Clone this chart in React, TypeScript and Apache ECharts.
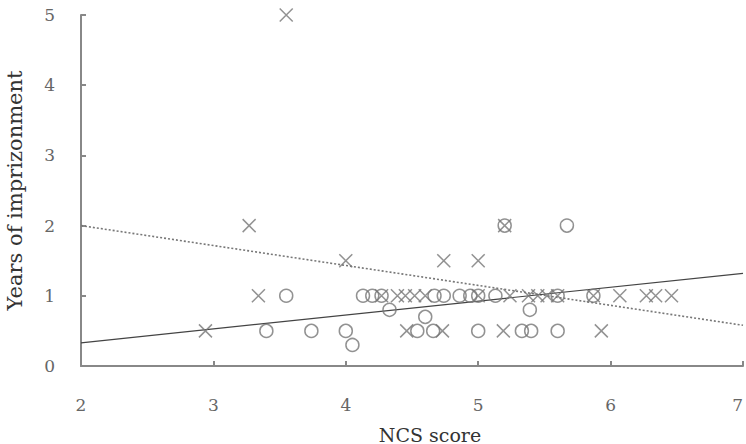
import React, { useEffect, useRef } from "react";
import * as echarts from "echarts";

const xTicks = [2, 3, 4, 5, 6, 7];
const yTicks = [0, 1, 2, 3, 4, 5];

// Group shown with circles
const circleX = [3.4, 3.55, 3.74, 4.0, 4.05, 4.13, 4.2, 4.27, 4.33, 4.54, 4.6, 4.66, 4.67, 4.74, 4.86, 4.94, 5.0, 5.0, 5.13, 5.2, 5.33, 5.4, 5.39, 5.6, 5.6, 5.67, 5.87];
const circleY = [0.5, 1, 0.5, 0.5, 0.3, 1, 1, 1, 0.8, 0.5, 0.7, 0.5, 1, 1, 1, 1, 1, 0.5, 1, 2, 0.5, 0.5, 0.8, 1, 0.5, 2, 1];

// Group shown with crosses
const crossX = [2.94, 3.27, 3.34, 3.55, 4.0, 4.27, 4.39, 4.45, 4.52, 4.6, 4.46, 4.73, 4.74, 5.0, 5.0, 5.2, 5.19, 5.24, 5.38, 5.45, 5.52, 5.6, 5.87, 5.93, 6.07, 6.27, 6.34, 6.46];
const crossY = [0.5, 2, 1, 5, 1.5, 1, 1, 1, 1, 1, 0.5, 0.5, 1.5, 1.5, 1, 2, 0.5, 1, 1, 1, 1, 1, 1, 0.5, 1, 1, 1, 1];

// Regression lines (end points)
const solidLineX = [2, 7];
const solidLineY = [0.33, 1.32];
const dottedLineX = [2, 7];
const dottedLineY = [2.0, 0.58];

const FONT = "DejaVu Serif";

export default function App() {
  const ref = useRef<HTMLDivElement>(null);
  useEffect(() => {
    if (!ref.current) return;
    const chart = echarts.init(ref.current, undefined, { renderer: "svg" });
    const zip = (xs: number[], ys: number[]) => xs.map((x, i) => [x, ys[i]]);
    chart.setOption({
      animation: false,
      backgroundColor: "#ffffff",
      grid: { left: 81, right: 3, top: 15, bottom: 78, outerBoundsMode: "none", containLabel: false },
      xAxis: {
        type: "value",
        min: xTicks[0],
        max: xTicks[xTicks.length - 1],
        interval: 1,
        name: "NCS score",
        nameLocation: "middle",
        nameGap: 59,
        nameTextStyle: { fontFamily: FONT, fontSize: 19, color: "#333", padding: [0, 0, 0, 36] },
        axisLine: { lineStyle: { color: "#888", width: 2 } },
        axisTick: { inside: true, length: 5, lineStyle: { color: "#888", width: 2 } },
        axisLabel: { fontFamily: FONT, fontSize: 17, color: "#666", margin: 30, alignMaxLabel: "right" },
        splitLine: { show: false },
      },
      yAxis: {
        type: "value",
        min: yTicks[0],
        max: yTicks[yTicks.length - 1],
        interval: 1,
        name: "Years of imprizonment",
        nameLocation: "middle",
        nameGap: 56,
        nameTextStyle: { fontFamily: FONT, fontSize: 21, color: "#333" },
        axisLine: { show: true, lineStyle: { color: "#888", width: 2 } },
        axisTick: { show: true, inside: true, length: 5, lineStyle: { color: "#888", width: 2 } },
        axisLabel: { fontFamily: FONT, fontSize: 17, color: "#666", margin: 26 },
        splitLine: { show: false },
      },
      series: [
        {
          type: "line",
          data: zip(dottedLineX, dottedLineY),
          symbol: "none",
          lineStyle: { color: "#777", width: 1.6, type: [2, 2] },
          z: 1,
        },
        {
          type: "line",
          data: zip(solidLineX, solidLineY),
          symbol: "none",
          lineStyle: { color: "#444", width: 1.2 },
          z: 1,
        },
        {
          type: "scatter",
          data: zip(circleX, circleY),
          symbol: "circle",
          symbolSize: 13,
          itemStyle: { color: "rgba(0,0,0,0)", borderColor: "#777", borderWidth: 1.5 },
          z: 2,
        },
        {
          type: "scatter",
          data: zip(crossX, crossY),
          symbol: "path://M0,0L10,10M10,0L0,10",
          symbolSize: 13,
          itemStyle: { color: "rgba(0,0,0,0)", borderColor: "#777", borderWidth: 1.5 },
          z: 2,
        },
      ],
    });
    return () => chart.dispose();
  }, []);
  return (
    <div
      ref={ref}
      style={{ position: "fixed", left: 0, top: 0, width: 746, height: 444 }}
    />
  );
}
